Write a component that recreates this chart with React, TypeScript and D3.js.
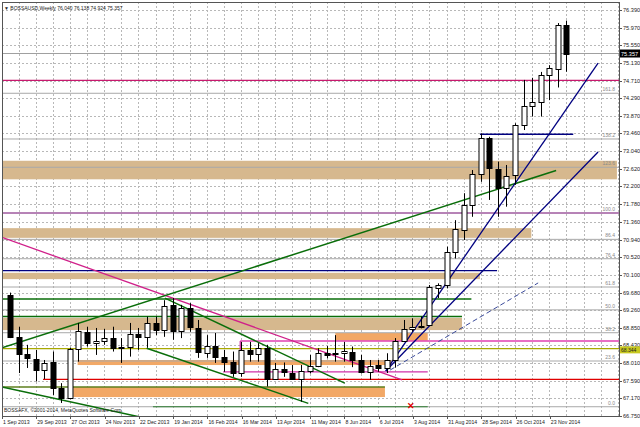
import React from "react";
import * as d3 from "d3";

const W = 640;
const H = 427;

// ---- data ----
const dateLabels = ["1 Sep 2013", "29 Sep 2013", "27 Oct 2013", "24 Nov 2013", "22 Dec 2013", "19 Jan 2014", "16 Feb 2014", "16 Mar 2014", "13 Apr 2014", "11 May 2014", "8 Jun 2014", "6 Jul 2014", "3 Aug 2014", "31 Aug 2014", "28 Sep 2014", "26 Oct 2014", "23 Nov 2014"];
const dateLabelBars = [0, 4, 8, 12, 16, 20, 24, 28, 32, 36, 40, 44, 48, 52, 56, 60, 64];
const priceTicks = [76.39, 75.97, 75.55, 75.13, 74.71, 74.29, 73.87, 73.46, 73.04, 72.62, 72.2, 71.78, 71.36, 70.94, 70.52, 70.1, 69.68, 69.26, 68.85, 68.43, 68.01, 67.59, 67.17, 66.75];

const open = [69.62, 68.63, 68.22, 68.10, 67.84, 68.04, 67.42, 67.18, 68.34, 68.75, 68.48, 68.53, 68.60, 68.37, 68.40, 68.70, 68.63, 68.96, 68.79, 69.39, 68.78, 69.31, 68.83, 68.25, 68.42, 68.16, 68.04, 67.78, 68.32, 68.22, 68.36, 67.62, 67.86, 67.76, 67.63, 67.83, 67.94, 68.25, 68.22, 68.25, 68.28, 68.08, 67.80, 67.96, 67.88, 68.08, 68.53, 68.81, 68.89, 68.91, 69.78, 69.86, 70.65, 71.17, 71.76, 72.50, 73.34, 72.61, 72.16, 72.47, 73.66, 74.11, 74.21, 74.85, 74.98, 76.04];
const high = [69.68, 68.87, 68.44, 68.32, 68.08, 68.28, 67.53, 68.37, 68.96, 68.87, 68.84, 68.82, 68.87, 68.60, 68.96, 68.84, 69.11, 69.11, 69.50, 69.55, 69.39, 69.43, 69.03, 68.67, 68.72, 68.32, 68.28, 68.51, 68.51, 68.48, 68.44, 68.01, 68.02, 67.96, 67.96, 68.20, 68.36, 68.41, 68.67, 68.51, 68.40, 68.20, 68.08, 68.08, 68.24, 68.60, 69.03, 69.07, 69.11, 69.86, 69.90, 70.77, 71.40, 72.04, 72.59, 73.46, 73.38, 72.79, 72.71, 73.70, 74.73, 74.78, 74.92, 75.08, 76.08, 76.138];
const low = [68.60, 67.77, 67.89, 67.57, 67.63, 67.25, 67.06, 67.15, 68.04, 68.40, 68.20, 68.44, 68.28, 68.01, 68.16, 68.32, 68.37, 68.67, 68.63, 68.56, 68.60, 68.75, 68.13, 68.13, 68.01, 67.80, 67.68, 67.68, 68.04, 68.04, 67.45, 67.61, 67.68, 67.61, 67.09, 67.76, 67.91, 68.12, 68.04, 68.04, 67.91, 67.76, 67.61, 67.80, 67.77, 67.90, 68.51, 68.75, 68.83, 68.89, 69.55, 69.78, 70.49, 70.93, 71.48, 72.31, 71.88, 71.48, 71.72, 72.24, 73.54, 73.86, 73.86, 74.25, 74.55, 74.924];
const close = [68.63, 68.22, 68.13, 67.84, 68.02, 67.42, 67.18, 68.34, 68.78, 68.48, 68.53, 68.61, 68.37, 68.40, 68.70, 68.63, 68.96, 68.79, 69.37, 68.78, 69.31, 68.87, 68.28, 68.42, 68.16, 68.04, 67.78, 68.32, 68.22, 68.36, 67.62, 67.86, 67.80, 67.63, 67.83, 67.94, 68.25, 68.20, 68.25, 68.30, 68.08, 67.80, 67.94, 67.88, 68.08, 68.53, 68.81, 68.87, 68.86, 69.81, 69.86, 70.65, 71.18, 71.76, 72.50, 73.34, 72.63, 72.16, 72.45, 73.66, 74.11, 74.21, 74.85, 75.01, 76.04, 75.357];

const bidPrice = 75.357;
const markedPrice = 68.344;

// fibonacci retracement
const fibLow = 66.97;
const fibHigh = 71.57;
const fibLevels = [0, 23.6, 38.2, 50, 61.8, 76.4, 86.4, 100, 123.6, 138.2, 161.8];

// horizontal lines: [price, fromBar, toBar, color, width]
const hLines: [number, number, number, string, number][] = [
  [74.72, -2, 80, "#C8196E", 1.3],
  [71.57, -2, 80, "#993399", 1.2],
  [70.2, -2, 56.9, "#000080", 1.3],
  [73.44, 54.9, 65.8, "#000080", 1.5],
  [69.53, -2, 53.9, "#0A6E0A", 1.5],
  [69.11, -2, 52.8, "#0A6E0A", 1.5],
  [68.35, -2, 80, "#A8A800", 1.3],
  [68.53, 26.9, 80, "#E040B0", 1.6],
  [67.8, 24.9, 48.8, "#D030A8", 1.3],
  [67.62, 3.86, 80, "#E00000", 1.3],
  [67.44, -2, 43.8, "#5E7F1E", 1.5],
  [66.97, 16.7, 48.8, "#2E7D32", 1.2],
];

// bands: [priceTop, priceBottom, fromBar, toBar, color]
const bands: [number, number, number, number, string][] = [
  [72.81, 72.37, -2, 70.9, "#D6B88E"],
  [71.21, 70.98, -2, 60.9, "#D6B88E"],
  [70.15, 70.0, -2, 54.9, "#D6B88E"],
  [69.08, 68.79, -2, 52.8, "#D6B88E"],
  [68.72, 68.54, 38, 48.8, "#F2A866"],
  [68.08, 67.96, 7.9, 44.6, "#F2A866"],
  [67.44, 67.2, 7.4, 43.8, "#F2A866"],
];

// trend lines: [bar1, price1, bar2, price2, color, width, dashed]
const trendLines: [number, number, number, number, string, number, boolean][] = [
  [-0.93, 70.99, 45.8, 67.61, "#D0208A", 1.3, false],
  [-0.93, 68.37, 63.8, 72.58, "#0A6E0A", 1.5, false],
  [-0.93, 67.44, 15.8, 66.7, "#0A6E0A", 1.5, false],
  [15.97, 68.36, 34.85, 67.05, "#0A6E0A", 1.5, false],
  [18.1, 69.55, 39.1, 67.53, "#0A6E0A", 1.5, false],
  [43.9, 67.82, 68.7, 75.13, "#000080", 1.3, false],
  [43.9, 67.82, 68.7, 73.02, "#000080", 1.3, false],
  [44.4, 67.84, 61.7, 69.91, "#3A4A9A", 1, true],
];

const crossBar = 46.8;
const crossPrice = 66.99;

export default function App() {
  const left = 2;
  const right = 619;
  const top = 2;
  const bottom = 416;

  const x = d3.scaleLinear().domain([0, 65]).range([10, 566.4]);
  const y = d3.scaleLinear().domain([66.75, 76.39]).range([416, 10]);

  const nBars = open.length;
  const bars = d3.range(nBars);
  const gridBars = d3.range(1, 75, 2).filter((i) => x(i) < right);
  const bodyW = 5;
  const fmt = d3.format(".3f");
  const fibPrice = (lv: number) => fibLow + ((fibHigh - fibLow) * lv) / 100;
  const font = "'Liberation Sans', Arial, sans-serif";

  return (
    <svg width={W} height={H} viewBox={`0 0 ${W} ${H}`} style={{ position: "absolute", left: 0, top: 0, background: "#fff" }}>
      <defs>
        <clipPath id="plot">
          <rect x={left} y={top} width={right - left} height={bottom - top} />
        </clipPath>
      </defs>
      <rect x={0} y={0} width={W} height={H} fill="#fff" />
      <g clipPath="url(#plot)">
        {/* grid */}
        {priceTicks.map((p, i) => (
          <line key={"hg" + i} x1={left} x2={right} y1={Math.round(y(p)) + 0.5} y2={Math.round(y(p)) + 0.5} stroke="#B8B8B8" strokeDasharray="2,2" />
        ))}
        {gridBars.map((b) => (
          <line key={"vg" + b} x1={Math.round(x(b)) + 0.5} x2={Math.round(x(b)) + 0.5} y1={top} y2={bottom} stroke="#B8B8B8" strokeDasharray="2,2" />
        ))}
        {/* bands */}
        {bands.map((b, i) => (
          <rect key={"b" + i} x={x(b[2])} y={y(b[0])} width={x(b[3]) - x(b[2])} height={y(b[1]) - y(b[0])} fill={b[4]} />
        ))}
        {/* fib lines */}
        {fibLevels.map((lv) => (
          <line key={"f" + lv} x1={left} x2={right} y1={y(fibPrice(lv))} y2={y(fibPrice(lv))} stroke="#A8A8A8" strokeWidth={1} />
        ))}
        {/* bid line */}
        <line x1={left} x2={right} y1={y(bidPrice)} y2={y(bidPrice)} stroke="#A0A0A0" strokeWidth={1} />
        {/* horizontal lines */}
        {hLines.map((l, i) => (
          <line key={"h" + i} x1={x(l[1])} x2={x(l[2])} y1={y(l[0])} y2={y(l[0])} stroke={l[3]} strokeWidth={l[4]} />
        ))}
        <line x1={x(26.9)} x2={x(26.9)} y1={y(68.53)} y2={y(67.8)} stroke="#D030A8" strokeWidth={1.3} />
        {/* trend lines */}
        {trendLines.map((t, i) => (
          <line key={"t" + i} x1={x(t[0])} y1={y(t[1])} x2={x(t[2])} y2={y(t[3])} stroke={t[4]} strokeWidth={t[5]} strokeDasharray={t[6] ? "5,3" : undefined} />
        ))}
        {/* candles */}
        {bars.map((i) => {
          const cx = Math.round(x(i)) + 0.5;
          const up = close[i] >= open[i];
          const yTop = Math.round(y(Math.max(open[i], close[i])));
          const yBot = Math.round(y(Math.min(open[i], close[i])));
          return (
            <g key={"c" + i}>
              <line x1={cx} x2={cx} y1={y(high[i])} y2={y(low[i])} stroke="#000" strokeWidth={1} />
              <rect x={cx - bodyW / 2} y={yTop + 0.5} width={bodyW} height={Math.max(1, yBot - yTop)} fill={up ? "#fff" : "#000"} stroke="#000" strokeWidth={1} />
            </g>
          );
        })}
        {/* cross marker */}
        <text x={x(crossBar)} y={y(crossPrice) + 3} textAnchor="middle" fontFamily={font} fontSize={9} fontWeight="bold" fill="#E00000">✕</text>
        {/* fib labels */}
        {fibLevels.map((lv) => (
          <text key={"fl" + lv} x={615} y={y(fibPrice(lv)) - 2} textAnchor="end" fontFamily={font} fontSize={5} fill="#8A8A8A">{lv.toFixed(1)}</text>
        ))}
      </g>
      {/* frame */}
      <rect x={left + 0.5} y={top + 0.5} width={right - left} height={bottom - top} fill="none" stroke="#555" strokeWidth={1} />
      {/* right axis */}
      {priceTicks.map((p, i) => (
        <g key={"pt" + i}>
          <line x1={right} x2={right + 3} y1={Math.round(y(p)) + 0.5} y2={Math.round(y(p)) + 0.5} stroke="#555" />
          <text x={623} y={y(p) + 2} fontFamily={font} fontSize={5.6} fill="#222">{fmt(p)}</text>
        </g>
      ))}
      <rect x={620} y={y(bidPrice) - 4} width={20} height={8} fill="#000" />
      <text x={621} y={y(bidPrice) + 2} fontFamily={font} fontSize={5.6} fill="#fff">{fmt(bidPrice)}</text>
      <rect x={620} y={y(markedPrice) - 2.5} width={20} height={7} fill="#C8C820" />
      <text x={621} y={y(markedPrice) + 3} fontFamily={font} fontSize={5} fill="#222">{fmt(markedPrice)}</text>
      {/* time axis */}
      {dateLabelBars.map((b, i) => (
        <g key={"dl" + i}>
          <line x1={Math.round(x(b) - 8) + 0.5} x2={Math.round(x(b) - 8) + 0.5} y1={bottom} y2={bottom + 3} stroke="#555" />
          <text x={x(b) - 7} y={424} fontFamily={font} fontSize={5.2} fill="#222">{dateLabels[i]}</text>
        </g>
      ))}
      {/* title & copyright */}
      <text x={4} y={10} fontFamily={font} fontSize={5} fill="#222">▼ BOSSAUSD,Weekly  76.040 76.138 74.924 75.357</text>
      <text x={4} y={412} fontFamily={font} fontSize={5} fill="#222">BOSSAFX, ©2001-2014, MetaQuotes Software Corp.</text>
    </svg>
  );
}
